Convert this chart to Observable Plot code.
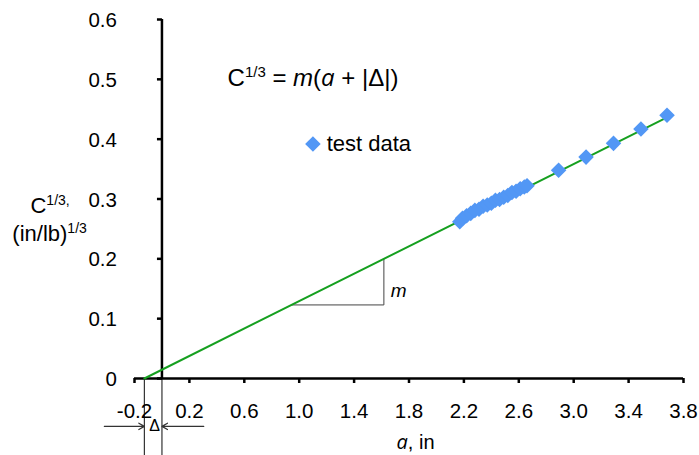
<!DOCTYPE html>
<html>
<head>
<meta charset="utf-8">
<script src="https://cdn.jsdelivr.net/npm/d3@7"></script>
<script src="https://cdn.jsdelivr.net/npm/@observablehq/plot@0.6"></script>
<style>
  html, body { margin: 0; padding: 0; background: #fff; }
  #chart svg { display: block; }
</style>
</head>
<body>
<div id="chart"></div>
<script>
// Crack length a (in) and cube root of compliance C^(1/3) for each test
const crackLength = [2.17, 2.19, 2.22, 2.25, 2.28, 2.31, 2.34, 2.37, 2.40, 2.43, 2.46, 2.49,
                     2.52, 2.55, 2.58, 2.61, 2.64, 2.66, 2.89, 3.09, 3.29, 3.49, 3.68];
const complianceRoot = [0.262, 0.268, 0.272, 0.276, 0.281, 0.283, 0.288, 0.290, 0.293, 0.298, 0.299, 0.303,
                        0.306, 0.311, 0.313, 0.317, 0.320, 0.322, 0.348, 0.370, 0.393, 0.417, 0.440];

// Linear fit C^(1/3) = m (a + |Δ|)
const slope = 0.1146;
const delta = -0.128;
const fitEnds = [delta, 3.68];
const slopeRun = [0.945, 1.617];

// Axis ticks
const xTicks = [-0.2, 0.2, 0.6, 1.0, 1.4, 1.8, 2.2, 2.6, 3.0, 3.4, 3.8];
const yTicks = [0, 0.1, 0.2, 0.3, 0.4, 0.5, 0.6];

const blue = "#5297f5";
const green = "#16a020";
const fit = (a) => slope * (a - delta);

const points = crackLength.map((a, i) => ({a, c: complianceRoot[i]}));

// Custom symbols: a square diamond and a short left-pointing tick
const diamond = {
  draw(ctx, size) {
    const h = Math.sqrt(size / 2);
    ctx.moveTo(0, -h); ctx.lineTo(h, 0); ctx.lineTo(0, h); ctx.lineTo(-h, 0); ctx.closePath();
  }
};
const tickLeft = {
  draw(ctx) { ctx.moveTo(-5, 0); ctx.lineTo(0, 0); }
};

const triangle = [
  {a: slopeRun[0], c: fit(slopeRun[0])},
  {a: slopeRun[1], c: fit(slopeRun[0])},
  {a: slopeRun[1], c: fit(slopeRun[1])}
];

const fmt = (d) => d === 0 ? "0" : d.toFixed(1);

const chart = Plot.plot({
  width: 699,
  height: 455,
  marginLeft: 134,
  marginRight: 16,
  marginTop: 19,
  marginBottom: 77,
  x: {domain: [-0.2, 3.8]},
  y: {domain: [0, 0.6], axis: null},
  style: {fontFamily: "'Liberation Sans', Arial, sans-serif", fontSize: "20px", background: "#fff", color: "#000"},
  marks: [
    // Δ offset markers below the axis
    Plot.ruleX([delta, 0], {x: (d) => d, y1: 0, y2: -0.129, stroke: "#333", strokeWidth: 1.2}),
    Plot.arrow([{x1: -0.42, x2: delta}, {x1: 0.305, x2: 0}], {
      x1: "x1", x2: "x2", y1: -0.08, y2: -0.08, stroke: "#333", strokeWidth: 1.2, headLength: 8
    }),
    Plot.text(["Δ"], {x: delta / 2 + 0.01, y: -0.08, text: (d) => d, fontSize: 16}),

    // axes
    Plot.ruleY([0], {stroke: "#000", strokeWidth: 2.5}),
    Plot.ruleX([0], {y1: 0, y2: 0.6, stroke: "#000", strokeWidth: 2.5}),
    Plot.axisX({ticks: xTicks, tickFormat: fmt, tickSize: 5, tickPadding: 20, strokeWidth: 2.5, fontSize: 20.5, label: null}),
    Plot.dot(yTicks, {x: 0, y: (d) => d, symbol: tickLeft, stroke: "#000", fill: "none", strokeWidth: 2.5}),
    Plot.text(yTicks, {x: 0, y: (d) => d, text: fmt, dx: -45, dy: 1, textAnchor: "end", fontSize: 20.5}),

    // slope triangle
    Plot.line(triangle, {x: "a", y: "c", stroke: "#444", strokeWidth: 1}),
    Plot.text(["m"], {x: 1.725, y: 0.147, text: (d) => d, fontStyle: "italic", fontSize: 19}),

    // fit line and data
    Plot.line(fitEnds, {x: (d) => d, y: fit, stroke: green, strokeWidth: 2}),
    Plot.dot(points, {x: "a", y: "c", symbol: diamond, r: 6.2, fill: blue}),

    // legend
    Plot.dot([0], {x: 1.1, y: 0.392, symbol: diamond, r: 6.2, fill: blue}),
    Plot.text(["test data"], {x: 1.2, y: 0.392, text: (d) => d, textAnchor: "start", fontSize: 22}),

    // equation and axis titles
    Plot.text(["C1/3 = m(a + |Δ|)"], {x: 0.478, y: 0.502, text: (d) => d, textAnchor: "start", fontSize: 24}),
    Plot.text(["C1/3,"], {x: -0.958, y: 0.289, text: (d) => d, textAnchor: "start", fontSize: 22}),
    Plot.text(["(in/lb)1/3"], {x: -1.09, y: 0.241, text: (d) => d, textAnchor: "start", fontSize: 22}),
    Plot.text(["a, in"], {x: 1.709, y: -0.107, text: (d) => d, textAnchor: "start", fontSize: 20})
  ]
});

document.getElementById("chart").appendChild(chart);

// Rich text runs: superscripts and italics inside a single label
function richText(svg, plain, runs, size) {
  d3.select(svg).selectAll("text")
    .filter(function () { return this.textContent === plain; })
    .each(function () {
      const t = d3.select(this);
      t.text(null);
      let shift = 0;
      runs.forEach((r) => {
        const s = t.append("tspan").text(r.text);
        if (r.sup) {
          const up = Math.round(size * 0.38);
          s.attr("font-size", Math.round(size * 0.62)).attr("dy", -up);
          shift = up;
        } else if (shift) {
          s.attr("dy", shift);
          shift = 0;
        }
        if (r.italic) s.attr("font-style", "italic");
        if (r.family) s.attr("font-family", r.family);
      });
    });
}

const italicA = "'Open Sans', sans-serif";
richText(chart, "C1/3 = m(a + |Δ|)", [
  {text: "C"}, {text: "1/3", sup: true}, {text: " = "}, {text: "m", italic: true},
  {text: "("}, {text: "a", italic: true, family: italicA}, {text: " + |Δ|)"}
], 24);
richText(chart, "C1/3,", [{text: "C"}, {text: "1/3,", sup: true}], 22);
richText(chart, "(in/lb)1/3", [{text: "(in/lb)"}, {text: "1/3", sup: true}], 22);
richText(chart, "a, in", [{text: "a", italic: true, family: italicA}, {text: ", in"}], 20);
</script>
</body>
</html>
